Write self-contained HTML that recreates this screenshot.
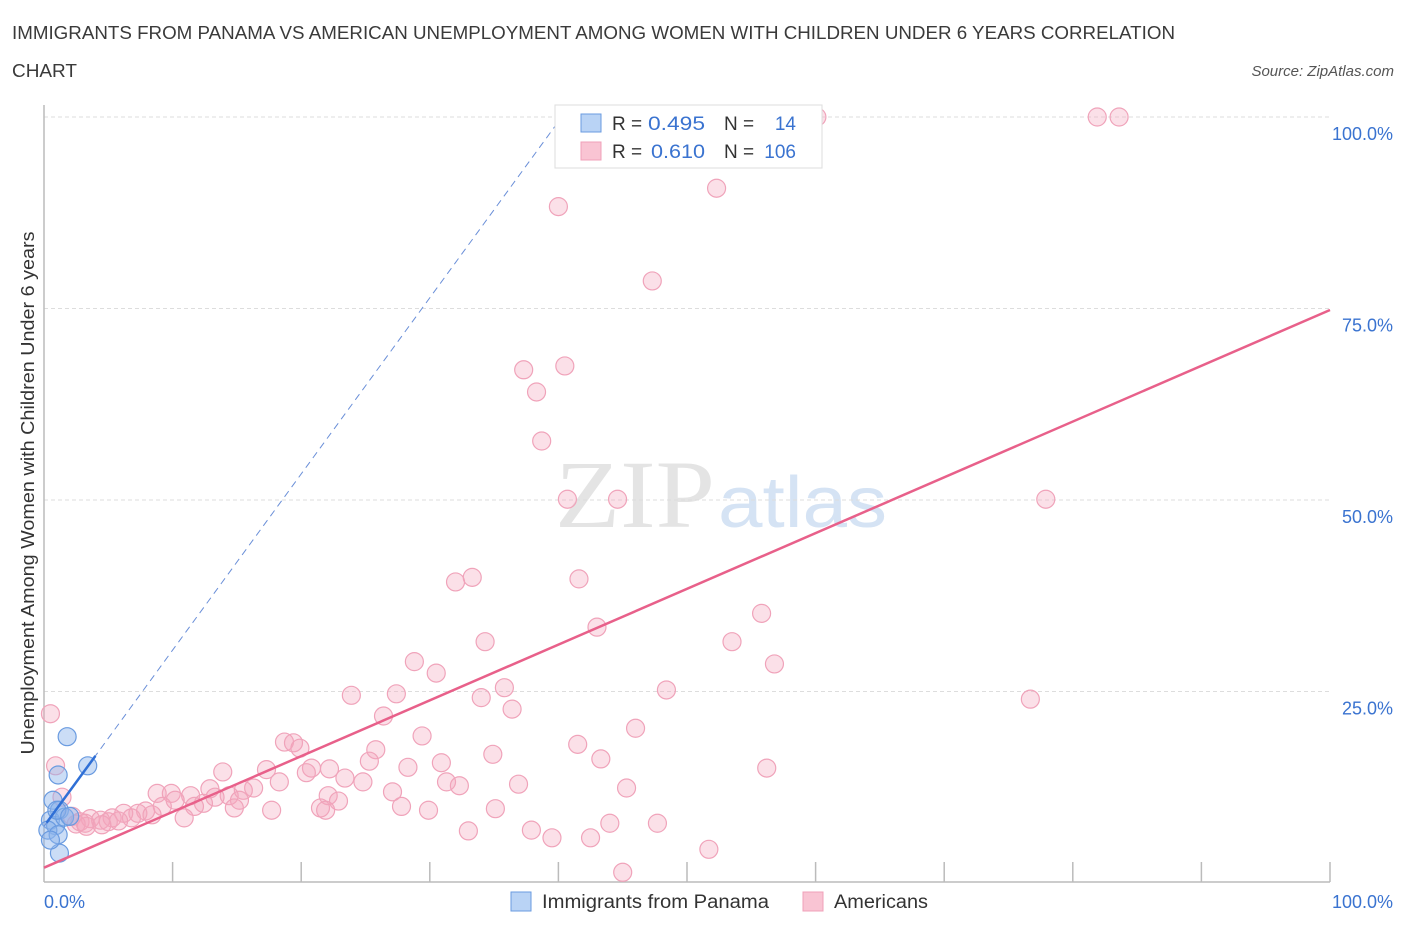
<!DOCTYPE html>
<html><head><meta charset="utf-8"><style>
body{margin:0;background:#fff;font-family:"Liberation Sans",sans-serif;}
</style></head><body>
<svg id="chart" width="1406" height="930" xmlns="http://www.w3.org/2000/svg">
<text x="12" y="39" font-size="18" fill="#3a3a3a" textLength="1163" lengthAdjust="spacingAndGlyphs">IMMIGRANTS FROM PANAMA VS AMERICAN UNEMPLOYMENT AMONG WOMEN WITH CHILDREN UNDER 6 YEARS CORRELATION</text>
<text x="12" y="77" font-size="18" fill="#3a3a3a" textLength="65" lengthAdjust="spacingAndGlyphs">CHART</text>
<text x="1394" y="76" font-size="15" font-style="italic" fill="#555" text-anchor="end">Source: ZipAtlas.com</text>
<text x="555" y="527" font-size="96" font-family="Liberation Serif,serif" fill="#e4e4e4" textLength="160" lengthAdjust="spacingAndGlyphs">ZIP</text>
<text x="718" y="527" font-size="72" fill="#d5e3f4" textLength="169" lengthAdjust="spacingAndGlyphs">atlas</text>
<g id="grid"></g>
<g id="axes"></g>
<g id="pts"></g>
<g id="lines"></g>
<text transform="translate(34,493) rotate(-90)" font-size="18" fill="#333" text-anchor="middle" textLength="523" lengthAdjust="spacingAndGlyphs">Unemployment Among Women with Children Under 6 years</text>
<g>
<rect x="555" y="105" width="267" height="63" fill="#fff" stroke="#ddd"/>
<rect x="581" y="114" width="20" height="18" fill="#b9d3f5" stroke="#6a9be0"/>
<text x="612" y="130" font-size="19" fill="#333">R =</text>
<text x="648" y="130" font-size="19" fill="#3a73d0" textLength="57" lengthAdjust="spacingAndGlyphs">0.495</text>
<text x="724" y="130" font-size="19" fill="#333">N =</text>
<text x="796" y="130" font-size="19" fill="#3a73d0" text-anchor="end">14</text>
<rect x="581" y="142" width="20" height="18" fill="#f9c4d3" stroke="#f0a0b8"/>
<text x="612" y="158" font-size="19" fill="#333">R =</text>
<text x="651" y="158" font-size="19" fill="#3a73d0" textLength="54" lengthAdjust="spacingAndGlyphs">0.610</text>
<text x="724" y="158" font-size="19" fill="#333">N =</text>
<text x="796" y="158" font-size="19" fill="#3a73d0" text-anchor="end">106</text>
</g>
<g>
<rect x="511" y="892" width="20" height="19" fill="#b9d3f5" stroke="#6a9be0"/>
<text x="542" y="908" font-size="19" fill="#333" textLength="227" lengthAdjust="spacingAndGlyphs">Immigrants from Panama</text>
<rect x="803" y="892" width="20" height="19" fill="#f9c4d3" stroke="#f0a0b8"/>
<text x="834" y="908" font-size="19" fill="#333" textLength="94" lengthAdjust="spacingAndGlyphs">Americans</text>
</g>
</svg>
<script>
const yTicks=[25,50,75,100];
const yTickLabels=["25.0%","50.0%","75.0%","100.0%"];
const xTickLabels=["0.0%","100.0%"];
const blueX=[1.8,3.4,1.1,0.7,1.2,0.5,0.9,0.3,1.1,1.6,1.2,0.5,1.0,2.0];
const blueY=[19.1,15.3,14.1,10.8,9.5,8.2,7.5,6.9,6.3,8.6,3.9,5.6,9.5,8.7];
const pinkX=[60.1,81.9,83.6,52.3,40.0,47.3,37.3,40.5,38.3,38.7,40.7,44.6,77.9,32.0,33.3,41.6,55.8,43.0,34.3,53.5,28.8,56.8,30.5,35.8,48.4,23.9,27.4,34.0,76.7,36.4,0.5,26.4,46.0,29.4,18.7,19.4,19.9,41.5,25.8,34.9,43.3,25.3,30.9,20.8,17.3,22.2,28.3,56.2,0.9,13.9,20.4,23.4,24.8,31.3,32.3,36.9,18.3,16.3,12.9,15.5,45.3,27.1,8.8,9.9,11.4,14.4,22.1,1.4,10.2,13.3,15.2,22.9,12.4,9.2,11.7,27.8,14.8,17.7,21.5,21.9,35.1,29.9,7.9,7.3,6.2,8.4,5.3,6.8,10.9,2.2,3.6,4.4,2.8,3.2,5.0,5.8,2.5,3.3,4.5,44.0,47.7,33.0,37.9,39.5,42.5,51.7,45.0];
const pinkY=[100,100,100,90.7,88.3,78.6,67.0,67.5,64.1,57.7,50.1,50.1,50.1,39.3,39.9,39.7,35.2,33.4,31.5,31.5,28.9,28.6,27.4,25.5,25.2,24.5,24.7,24.2,24.0,22.7,22.1,21.8,20.2,19.2,18.4,18.3,17.6,18.1,17.4,16.8,16.2,15.9,15.7,15.0,14.8,14.9,15.1,15.0,15.3,14.5,14.4,13.7,13.2,13.2,12.7,12.9,13.2,12.4,12.3,12.1,12.4,11.9,11.7,11.7,11.4,11.4,11.4,11.2,10.8,11.2,10.8,10.7,10.4,10.0,10.0,10.0,9.8,9.5,9.8,9.5,9.7,9.5,9.4,9.1,9.1,8.9,8.5,8.5,8.5,8.7,8.4,8.2,8.0,7.8,8.0,8.1,7.7,7.4,7.6,7.8,7.8,6.8,6.9,5.9,5.9,4.4,1.4];
const pinkFit=[2.0,74.8];
const blueFit=[7.4,2.3];
const NS="http://www.w3.org/2000/svg";
const X=v=>44+v*12.86, Y=v=>883-v*7.66;
function mk(tag,attrs,parent){const e=document.createElementNS(NS,tag);for(const k in attrs)e.setAttribute(k,attrs[k]);document.getElementById(parent).appendChild(e);return e;}
yTicks.forEach((t,i)=>{
 const g=mk('line',{x1:44,x2:1330,y1:Y(t),y2:Y(t),stroke:'#ddd','stroke-dasharray':'4,3'},'grid');
 
 
 const tx=mk('text',{x:1393,y:Y(t)+23,'font-size':18,fill:'#3a73d0','text-anchor':'end'},'axes');
 tx.textContent=yTickLabels[i];
 
 
});
let a=mk('line',{x1:44,x2:1330,y1:882,y2:882,stroke:'#bbb','stroke-width':1.5},'axes');


a=mk('line',{x1:44,x2:44,y1:105,y2:882,stroke:'#bbb','stroke-width':1.5},'axes');


for(let k=1;k<=10;k++){const t=mk('line',{x1:X(k*10),x2:X(k*10),y1:862,y2:882,stroke:'#bbb','stroke-width':1.5},'axes');
 
 }
[[X(0),'start'],[1393,'end']].forEach((p,i)=>{const t=mk('text',{x:p[0],y:908,'font-size':18,fill:'#3a73d0','text-anchor':p[1]},'axes');t.textContent=xTickLabels[i];
 
 });
pinkX.forEach((x,i)=>{const c=mk('circle',{cx:X(x),cy:Y(pinkY[i]),r:9,fill:'rgba(244,167,190,0.35)',stroke:'#f0a3ba','stroke-width':1.2},'pts');
 
 });
blueX.forEach((x,i)=>{const c=mk('circle',{cx:X(x),cy:Y(blueY[i]),r:9,fill:'rgba(140,180,235,0.45)',stroke:'#6a9be0','stroke-width':1.2},'pts');
 
 });
let l=mk('line',{x1:X(0),y1:Y(pinkFit[0]),x2:X(100),y2:Y(pinkFit[1]),stroke:'#e8608a','stroke-width':2.5},'lines');


const xe=(100-blueFit[0])/blueFit[1];
l=mk('line',{x1:X(0),y1:Y(blueFit[0]),x2:X(xe),y2:Y(100),stroke:'#6a8fd8','stroke-width':1,'stroke-dasharray':'7,5'},'lines');


l=mk('line',{x1:X(0.2),y1:Y(blueFit[0]+0.2*blueFit[1]),x2:X(4),y2:Y(blueFit[0]+4*blueFit[1]),stroke:'#2f6fd6','stroke-width':2.5},'lines');


</script>
</body></html>
